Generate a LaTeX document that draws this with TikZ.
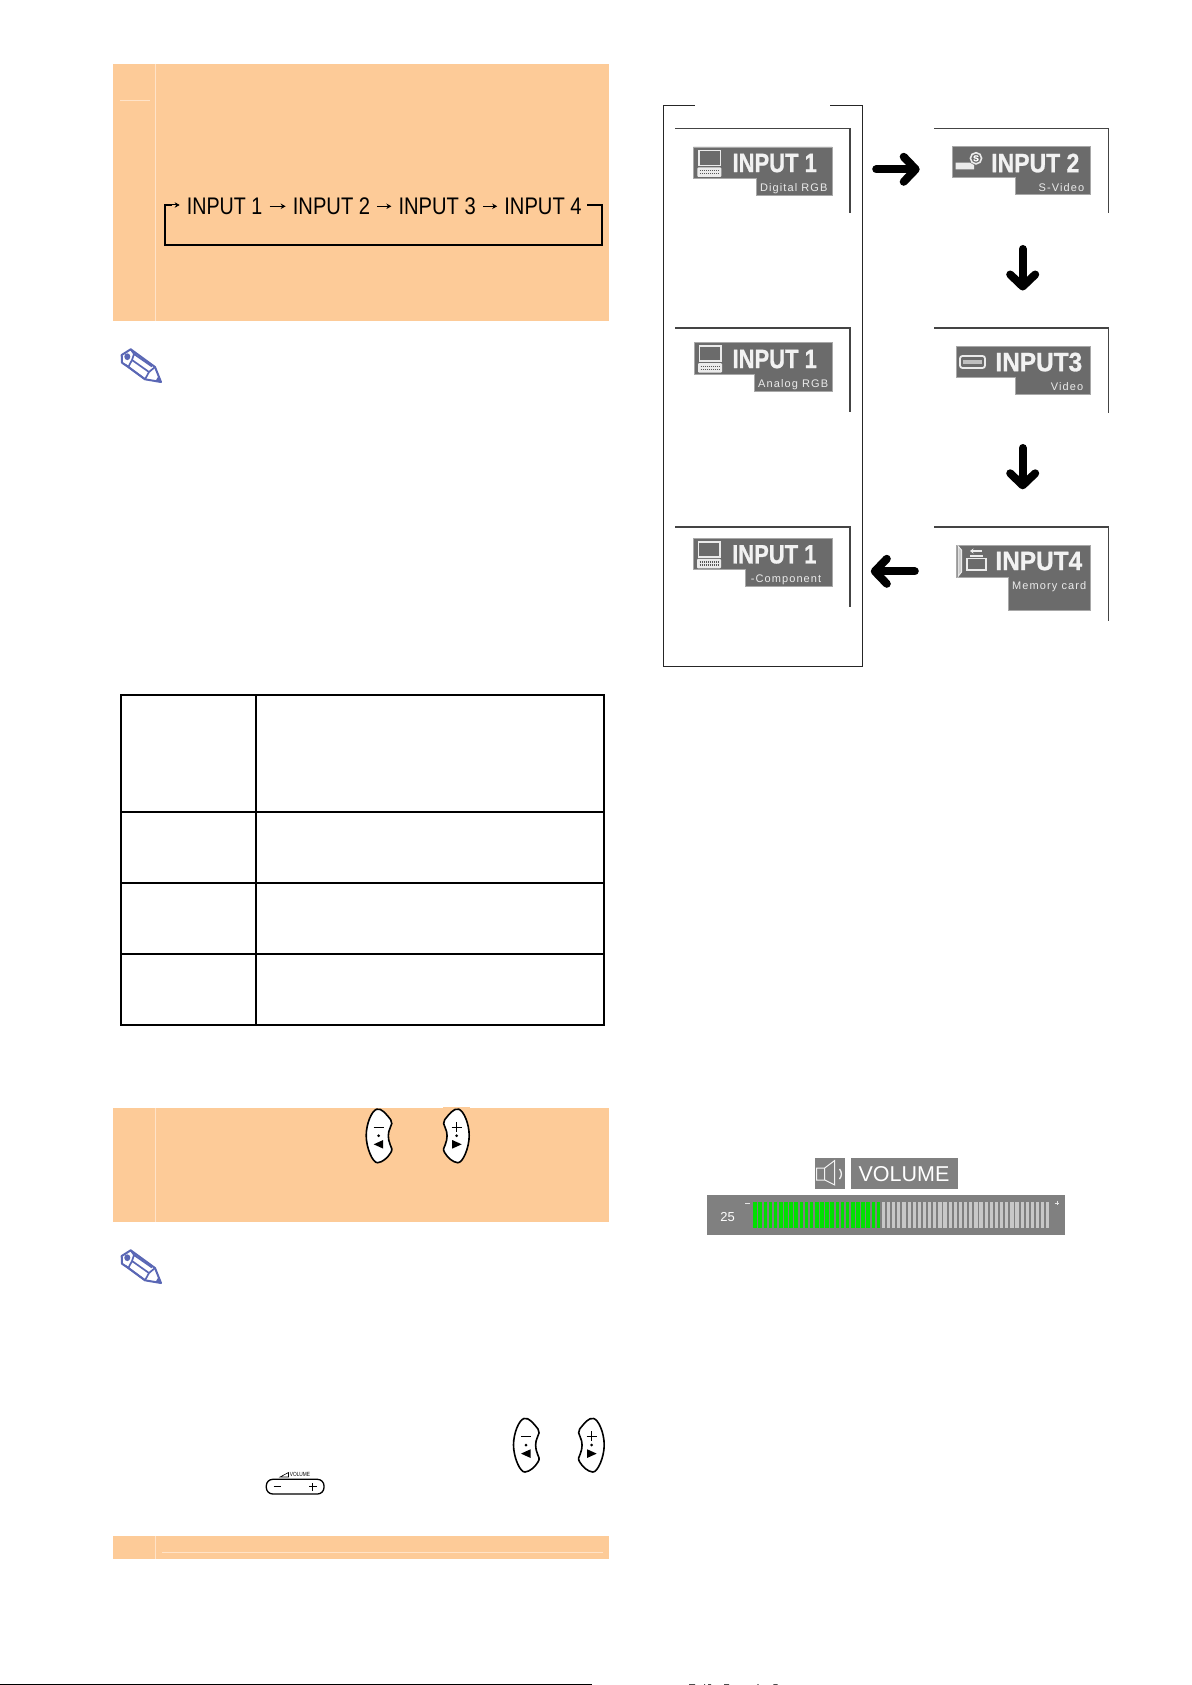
\documentclass[tikz,border=0pt]{standalone}
\usepackage{fontspec}
\usepackage{graphicx}
\usetikzlibrary{arrows.meta}
\setmainfont{Liberation Sans}
\newfontfamily\subf[LetterSpace=10]{Liberation Sans}
\newfontfamily\titlef[UprightFont=* Bold,FakeBold=1]{Liberation Sans}
\definecolor{panelc}{HTML}{FDCB98}
\definecolor{stripec}{HTML}{FFE3C8}
\definecolor{badgec}{HTML}{6B6B6B}
\definecolor{badgeedge}{HTML}{A8A8A8}
\definecolor{screenc}{HTML}{444444}
\definecolor{volc}{HTML}{808080}
\definecolor{penc}{HTML}{5A67B5}
\definecolor{tickc}{HTML}{C8C8C8}
\definecolor{greenc}{HTML}{00E000}
\newcommand\rockerpath{(-2,-26.5) .. controls (3,-28) and (8,-21) .. (12,-16) .. controls (14,-13.5) and (13,-11) .. (11.5,-8) .. controls (9,-3) and (9,3) .. (11.5,9) .. controls (13,12) and (14,14) .. (12,17) .. controls (9,22) and (4,26.5) .. (-1,27) .. controls (-6,27.5) and (-12.5,12) .. (-12.5,0) .. controls (-12.5,-12) and (-7,-25) .. (-2,-26.5) -- cycle}
\tikzset{
  panel/.style={fill=panelc,draw=none},
  stripe/.style={draw=stripec,line width=.8pt},
  tableline/.style={draw=black,line width=1.6pt},
  screenline/.style={draw=screenc,line width=1.1pt},
  frameline/.style={draw=black!85,line width=1.2pt,line cap=rect},
  badge/.style={fill=badgec,draw=badgeedge,line width=.6pt},
  titletext/.style={text=white!95!black,font=\fontsize{26.5}{28}\selectfont\titlef,inner sep=0pt,yshift=-.4pt},
  subtext/.style={text=white!92!black,font=\fontsize{11}{12}\selectfont\subf,inner sep=0pt,yshift=-1pt},
  looptext/.style={text=black,font=\fontsize{24}{26}\selectfont,inner sep=0pt,yshift=-1pt},
  smallarrow/.style={draw=black,line width=1pt,-{Stealth[length=5pt,width=5.5pt]},shorten >=7pt,shorten <=7pt},
  loopline/.style={draw=black,line width=1.2pt,line join=miter},
  bigarrow/.style={draw=black,line width=8pt,line cap=round,-{Straight Barb[length=12pt,width=25pt,line width=8pt,round]}},
  iconline/.style={draw=white!92!black,line width=1pt},
  minusbtn/.pic={
    \draw[fill=white,draw=black,line width=1.6pt] \rockerpath;
    \draw[line width=1pt] (-5,-8.7) -- (5,-8.7);
    \fill (0,0) circle (1.5);
    \fill (-5,8.6) -- (4.5,4.3) -- (4.5,12.9) -- cycle;
  },
  plusbtn/.pic={
    \draw[fill=white,draw=black,line width=1.6pt,xscale=-1] \rockerpath;
    \draw[line width=1pt] (-5,-8.7) -- (5,-8.7) (0,-13.7) -- (0,-3.7);
    \fill (0,0) circle (1.5);
    \fill (5,8.6) -- (-4.5,4.3) -- (-4.5,12.9) -- cycle;
  },
  pencil/.pic={
    \draw[penc,line width=2pt,line join=round,fill=white]
      (10.7,2.3) -- (1.7,8) -- (2,15.7) -- (8.3,20) -- (25,32.3) -- (41,35) -- (35,20) -- cycle;
    \draw[penc,line width=1.7pt,line join=round]
      (8.3,20) -- (12,13) -- (14,7) -- (10.7,2.3)
      (12,13) -- (29,25) (14,7) -- (32,19.5) (5,17.5) -- (24,31.5)
      (25,32.3) -- (29,25) -- (35,20);
    \fill[penc] (7.3,9.7) ellipse (3 and 3.4);
    \fill[penc] (41,35) -- (35.5,34) -- (38.5,29) -- cycle;
  },
  laptop/.pic={
    \draw[iconline,line width=1.5pt] (5.5,3.5) rectangle (27,18.5);
    \fill[white!92!black,rounded corners=1pt] (4,20.5) rectangle (28,30);
    \draw[badgec!80!black,line width=1.4pt,dash pattern=on 1.4pt off .6pt] (6.5,23.5) -- (25.5,23.5) (6.5,26.8) -- (25.5,26.8);
  },
}
\begin{document}
\begin{tikzpicture}[x=1pt,y=-1pt]
\useasboundingbox (0,0) rectangle (1191,1685);
\fill[white] (0,0) rectangle (1191,1685);

% left panels
\fill[panel] (113,64) rectangle (609,321);
\draw[stripe] (155.3,64) -- (155.3,321);
\draw[stripe] (120,100.3) -- (150,100.3);
\fill[panel] (113,1108) rectangle (609,1222);
\draw[stripe] (155.3,1108) -- (155.3,1222);
\fill[panel] (443,1107) rectangle (470,1109);
\fill[panel] (113,1536) rectangle (609,1559);
\draw[stripe] (155.3,1536) -- (155.3,1559);
\draw[stripe] (162,1552.3) -- (603,1552.3);

% input loop
\node[looptext] (in1) at (224.6,205.3) {\scalebox{.82}[1]{INPUT 1}};
\node[looptext] (in2) at (331.5,205.3) {\scalebox{.84}[1]{INPUT 2}};
\node[looptext] (in3) at (437.2,205.3) {\scalebox{.84}[1]{INPUT 3}};
\node[looptext] (in4) at (543,205.3) {\scalebox{.84}[1]{INPUT 4}};
\coordinate (loopTR) at (602,205);
\coordinate (loopBR) at (602,245);
\coordinate (loopBL) at (165,245);
\coordinate (loopTL) at (165,205);
\coordinate (loopIn) at (172,205);
\draw[smallarrow] (in1.east) -- (in2.west);
\draw[smallarrow] (in2.east) -- (in3.west);
\draw[smallarrow] (in3.east) -- (in4.west);
\draw[loopline,shorten <=5.5pt] (in4.east |- loopTR) -- (loopTR) -- (loopBR) -- (loopBL) -- (loopTL) -- (loopIn);
\draw[smallarrow,shorten <=0pt] (loopIn) -- (in1.west |- loopTL);

% pencils
\pic at (120,347) {pencil};
\pic at (120,1248) {pencil};

% table
\draw[tableline] (121,695) rectangle (603.7,1025);
\draw[tableline] (256,695) -- (256,1025);
\draw[tableline] (121,812) -- (603.7,812);
\draw[tableline] (121,883) -- (603.7,883);
\draw[tableline] (121,953.7) -- (603.7,953.7);

% rocker buttons
\pic at (378.7,1135.7) {minusbtn};
\pic at (456.7,1135.7) {plusbtn};
\pic at (526,1445) {minusbtn};
\pic at (591.7,1445) {plusbtn};

% volume key
\draw[black,line width=1.3pt,rounded corners=6.5pt] (266.3,1479.3) rectangle (324,1494);
\draw[black,line width=1pt] (273.5,1486.7) -- (281,1486.7) (309,1486.7) -- (316.5,1486.7) (312.7,1483) -- (312.7,1490.5);
\node[inner sep=0pt,font=\fontsize{6}{6}\selectfont] (volkey) at (300,1474.7) {\scalebox{.8}[1]{VOLUME}};
\draw[black,line width=.6pt] (280,1477) -- (288.5,1477) -- (288.5,1472.5) -- cycle;

% outer frame on the right
\draw[frameline] (694,105.7) -- (663.7,105.7) -- (663.7,666.7) -- (862.3,666.7) -- (862.3,105.7) -- (831,105.7);

% screens
\draw[screenline] (675,128.5) -- (850,128.5) -- (850,212.7);
\draw[screenline] (675,328) -- (850,328) -- (850,411.7);
\draw[screenline] (675,527) -- (850,527) -- (850,607.3);
\draw[screenline] (934,128.5) -- (1108.7,128.5) -- (1108.7,213);
\draw[screenline] (934,328) -- (1108.7,328) -- (1108.7,412.7);
\draw[screenline] (934,527) -- (1108.7,527) -- (1108.7,621.3);

% badges
\draw[badge] (693.3,147) -- (832,147) -- (832,195.3) -- (756.3,195.3) -- (756.3,178.7) -- (693.3,178.7) -- cycle;
\draw[badge] (952.3,146.3) -- (1090.3,146.3) -- (1090.3,194.7) -- (1015.3,194.7) -- (1015.3,177.7) -- (952.3,177.7) -- cycle;
\draw[badge] (694,342.3) -- (832.7,342.3) -- (832.7,391.7) -- (754,391.7) -- (754,374.7) -- (694,374.7) -- cycle;
\draw[badge] (956.3,346) -- (1090.3,346) -- (1090.3,394.3) -- (1015,394.3) -- (1015,377.7) -- (956.3,377.7) -- cycle;
\draw[badge] (693,538.3) -- (832,538.3) -- (832,586.7) -- (745.3,586.7) -- (745.3,569.7) -- (693,569.7) -- cycle;
\draw[badge] (956.3,545.3) -- (1090.3,545.3) -- (1090.3,610.3) -- (1008.3,610.3) -- (1008.3,577.3) -- (956.3,577.3) -- cycle;

\node[titletext] (t1) at (774.7,162.7) {\scalebox{.83}[1]{INPUT 1}};
\node[titletext] (t2) at (774.7,358.7) {\scalebox{.83}[1]{INPUT 1}};
\node[titletext] (t3) at (774.3,554) {\scalebox{.83}[1]{INPUT 1}};
\node[titletext] (t4) at (1035.3,162.7) {\scalebox{.867}[1]{INPUT 2}};
\node[titletext] (t5) at (1038.8,361.7) {\scalebox{.92}[1]{INPUT3}};
\node[titletext] (t6) at (1038.8,560.7) {\scalebox{.92}[1]{INPUT4}};
\node[subtext] (s1) at (793.8,187.3) {Digital RGB};
\node[subtext] (s2) at (793.2,383.3) {Analog RGB};
\node[subtext] (s3) at (786,578.3) {-Component};
\node[subtext] (s4) at (1061.5,186.7) {S-Video};
\node[subtext] (s5) at (1067,386) {Video};
\node[subtext] (s6) at (1049.2,585.7) {Memory card};

% badge icons
\pic at (693.3,147) {laptop};
\pic at (694,342.7) {laptop};
\pic at (693,538.3) {laptop};
% S-video
\fill[white!92!black] (955.7,162.7) -- (970,162.7) -- (974,165) -- (974,169.3) -- (955.7,169.3) -- cycle;
\draw[iconline,line width=1.6pt,fill=badgec] (976,158.3) circle (5.6);
\node[inner sep=0pt,text=white,font=\fontsize{8.5}{9}\selectfont\titlef] (sicon) at (976,158.3) {S};
% video
\draw[iconline,line width=1.8pt,rounded corners=2.5pt] (960,356) rectangle (985,368);
\fill[white!75!black] (963,360) rectangle (982,364);
% memory card
\draw[iconline,fill=white!80!black] (958,546) -- (961.5,550) -- (961.5,572) -- (958,576.5) -- cycle;
\draw[iconline,line width=1.4pt,-{Stealth[length=3.5pt,width=5pt]}] (982,551) -- (970,551);
\draw[iconline,line width=1.5pt,fill=badgec] (967,558.5) rectangle (986,570);
\draw[iconline,line width=1.2pt] (970,556) -- (983,556);

% big arrows
\coordinate (a1s) at (876.2,169.3);
\coordinate (a1e) at (919.7,169.3);
\coordinate (a2s) at (1022.7,249);
\coordinate (a2e) at (1022.7,290.5);
\coordinate (a3s) at (1022.7,448);
\coordinate (a3e) at (1022.7,489.3);
\coordinate (a4s) at (914.8,571.3);
\coordinate (a4e) at (870.8,571.3);
\draw[bigarrow] (a1s) -- (a1e);
\draw[bigarrow] (a2s) -- (a2e);
\draw[bigarrow] (a3s) -- (a3e);
\draw[bigarrow] (a4s) -- (a4e);

% volume display
\fill[volc] (814.7,1158) rectangle (844.7,1188.7);
\fill[volc] (851.3,1158) rectangle (958,1188.7);
\draw[white!95!black,line width=1pt] (816.7,1168) rectangle (824.7,1180) (824.7,1168) -- (834.7,1160.5) -- (834.7,1185) -- (824.7,1180);
\draw[white!95!black,line width=1.3pt] (839.5,1169) .. controls (842,1172) and (842,1176) .. (839.5,1179);
\node[inner sep=0pt,text=white,font=\fontsize{21.5}{23}\selectfont,yshift=-1pt] (voltxt) at (904,1173.5) {VOLUME};
\fill[volc] (707,1195.3) rectangle (1064.7,1235);
\node[inner sep=0pt,text=white,font=\fontsize{13}{14}\selectfont] (volnum) at (727.7,1216.7) {25};
\foreach \i in {0,...,57} {
  \pgfmathsetmacro\tx{753.3+\i*5.14}
  \ifnum\i<25 \fill[greenc] (\tx,1202.3) rectangle ++(3.6,25.4);
  \else \fill[tickc] (\tx,1202.3) rectangle ++(3.2,25.4); \fi
}
\draw[white!90!black,line width=.9pt] (745,1203) -- (749.5,1203) (1054.7,1203) -- (1059.3,1203) (1057,1200.7) -- (1057,1205.3);

% page foot
\fill[black] (0,1683.8) rectangle (592,1685);
\fill[black!70] (689,1684) rectangle (695,1685) (704,1684) rectangle (705,1685) (708,1684) rectangle (711,1685) (724,1684) rectangle (729,1685) (757.3,1684) rectangle (758.7,1685) (773.3,1684) rectangle (777.7,1685);
\end{tikzpicture}
\end{document}
